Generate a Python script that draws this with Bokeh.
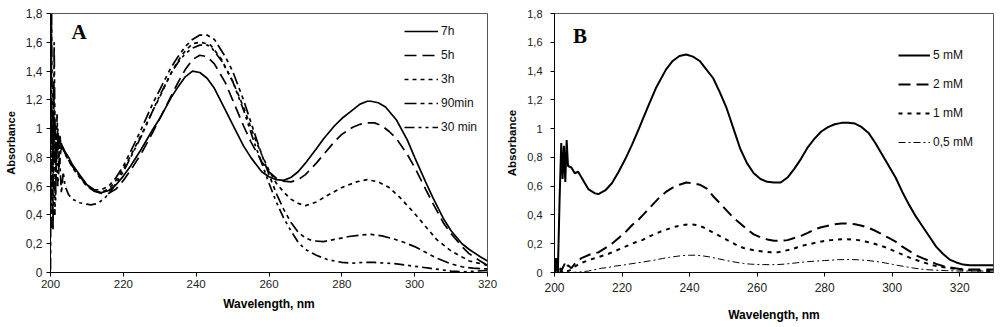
from bokeh.plotting import figure
from bokeh.layouts import row
from bokeh.models import FixedTicker, Label, Legend, LegendItem, Range1d
from bokeh.embed import file_html
from bokeh.resources import INLINE

# ---------------- Panel A data ----------------
wl_7h = [200, 200.5, 201, 201.5, 202, 202.5, 203, 204, 205, 206, 208, 210, 212, 213, 214, 216, 218, 220, 222, 225,
         228, 230, 233, 235, 237, 239, 241, 243, 245, 248, 250, 253, 255, 258, 260, 262, 264, 266, 268, 270, 273,
         275, 278, 280, 283, 285, 287, 288, 290, 292, 295, 298, 300, 303, 305, 308, 310, 313, 315, 318, 320]
abs_7h = [1.05, 0.95, 1.08, 0.92, 0.97, 0.9, 0.89, 0.84, 0.8, 0.75, 0.68, 0.61, 0.57, 0.56, 0.555, 0.57, 0.61, 0.67,
          0.74, 0.86, 0.99, 1.07, 1.21, 1.29, 1.36, 1.40, 1.39, 1.35, 1.28, 1.13, 1.03, 0.88, 0.80, 0.70, 0.665,
          0.645, 0.64, 0.66, 0.70, 0.76, 0.86, 0.93, 1.02, 1.07, 1.13, 1.17, 1.19, 1.19, 1.18, 1.15, 1.06, 0.92,
          0.80, 0.63, 0.52, 0.37, 0.29, 0.2, 0.16, 0.11, 0.08]

wl_5h = [200, 200.5, 201, 201.5, 202, 202.5, 203, 204, 205, 206, 208, 210, 212, 214, 216, 218, 220, 222, 225, 228,
         230, 233, 235, 237, 239, 241, 243, 245, 248, 250, 253, 255, 258, 260, 262, 264, 266, 268, 270, 273, 275,
         278, 280, 283, 285, 287, 289, 291, 293, 295, 298, 300, 303, 305, 308, 310, 313, 315, 318, 320]
abs_5h = [1.1, 0.85, 1.0, 0.8, 0.95, 0.85, 0.88, 0.83, 0.79, 0.74, 0.67, 0.6, 0.565, 0.55, 0.55, 0.58, 0.64, 0.71,
          0.83, 0.97, 1.07, 1.22, 1.32, 1.41, 1.48, 1.51, 1.50, 1.45, 1.32, 1.20, 1.02, 0.91, 0.77, 0.70, 0.655,
          0.635, 0.63, 0.645, 0.68, 0.76, 0.82, 0.91, 0.96, 1.01, 1.03, 1.04, 1.04, 1.02, 0.98, 0.93, 0.82, 0.73,
          0.58, 0.48, 0.34, 0.27, 0.18, 0.13, 0.08, 0.05]

wl_3h = [200, 200.5, 201, 201.5, 202, 202.5, 203, 204, 205, 206, 208, 210, 212, 214, 216, 218, 220, 222, 225, 228,
         230, 233, 235, 237, 239, 241, 243, 244, 247, 250, 253, 256, 258, 260, 262, 264, 266, 268, 270, 273, 276,
         280, 284, 287, 290, 293, 296, 300, 303, 306, 310, 315, 320]
abs_3h = [0.9, 0.5, 1.2, 0.7, 1.0, 0.75, 0.9, 0.82, 0.78, 0.73, 0.66, 0.6, 0.565, 0.56, 0.58, 0.64, 0.72, 0.81, 0.96,
          1.12, 1.22, 1.38, 1.47, 1.54, 1.59, 1.60, 1.59, 1.58, 1.48, 1.33, 1.15, 0.94, 0.82, 0.71, 0.62, 0.56,
          0.51, 0.48, 0.465, 0.49, 0.535, 0.59, 0.63, 0.645, 0.63, 0.59, 0.52, 0.41, 0.32, 0.23, 0.15, 0.08, 0.05]

wl_90 = [200, 200.3, 200.7, 201, 201.4, 201.8, 202.2, 202.6, 203, 204, 205, 206, 208, 210, 212, 214, 216, 218, 220,
         222, 225, 228, 230, 233, 235, 237, 239, 241, 243, 245, 248, 250, 253, 256, 258, 260, 262, 264, 266, 268,
         270, 272, 275, 278, 282, 285, 288, 291, 294, 297, 300, 303, 306, 310, 313, 316, 320]
abs_90 = [0.02, 1.8, 0.3, 1.6, 0.5, 1.1, 0.7, 0.95, 0.85, 0.83, 0.78, 0.74, 0.67, 0.61, 0.575, 0.575, 0.6, 0.66,
          0.74, 0.84, 1.0, 1.17, 1.27, 1.42, 1.5, 1.57, 1.62, 1.65, 1.65, 1.62, 1.50, 1.40, 1.20, 0.97, 0.82, 0.68,
          0.55, 0.44, 0.35, 0.28, 0.24, 0.22, 0.215, 0.23, 0.25, 0.26, 0.265, 0.255, 0.235, 0.21, 0.18, 0.14, 0.1,
          0.06, 0.04, 0.03, 0.025]

wl_30 = [200, 200.4, 200.8, 201.2, 201.6, 202, 202.5, 203, 203.5, 204, 205, 206, 208, 210, 211, 213, 215, 217, 220,
         222, 225, 228, 230, 233, 235, 237, 239, 241, 243, 244, 247, 250, 253, 256, 258, 260, 262, 264, 266, 268,
         270, 273, 276, 280, 283, 286, 289, 292, 295, 298, 301, 304, 307, 310, 314, 317, 320]
abs_30 = [1.75, 0.3, 1.3, 0.4, 0.9, 0.6, 0.8, 0.55, 0.7, 0.6, 0.54, 0.51, 0.485, 0.475, 0.47, 0.48, 0.52, 0.58, 0.70,
          0.8, 0.95, 1.12, 1.23, 1.38, 1.46, 1.52, 1.56, 1.58, 1.58, 1.57, 1.47, 1.33, 1.13, 0.9, 0.76, 0.62, 0.49,
          0.38, 0.29, 0.21, 0.16, 0.12, 0.09, 0.07, 0.065, 0.07, 0.07, 0.065, 0.06, 0.05, 0.04, 0.03, 0.02, 0.01,
          0.005, 0.01, 0.015]

names_a = ["7h", "5h", "3h", "90min", "30 min"]

# ---------------- Panel B data ----------------
wl_5mm = [200, 200.5, 201, 201.5, 202, 202.4, 202.8, 203.2, 203.6, 204, 205, 206, 207, 208, 209, 210, 212, 213, 215,
          217, 219, 221, 223, 225, 228, 230, 233, 235, 237, 239, 241, 243, 245, 247, 249, 251, 252, 253, 255, 257,
          259, 261, 263, 265, 267, 269, 271, 273, 275, 277, 279, 281, 283, 285, 287, 289, 291, 293, 295, 297, 299,
          301, 303, 305, 307, 309, 311, 313, 315, 317, 319, 321, 323, 326, 330]
abs_5mm = [0.0, 0.1, 0.01, 0.5, 0.9, 0.65, 0.88, 0.63, 0.92, 0.74, 0.73, 0.69, 0.7, 0.66, 0.62, 0.58, 0.55, 0.545,
           0.57, 0.62, 0.7, 0.79, 0.89, 1.0, 1.17, 1.28, 1.41, 1.47, 1.505, 1.515, 1.5, 1.47, 1.41, 1.35, 1.25,
           1.14, 1.07, 1.0, 0.86, 0.76, 0.69, 0.65, 0.63, 0.625, 0.625, 0.66, 0.72, 0.79, 0.87, 0.93, 0.98, 1.01,
           1.03, 1.04, 1.04, 1.035, 1.01, 0.97, 0.9, 0.82, 0.74, 0.66, 0.56, 0.47, 0.39, 0.32, 0.25, 0.18, 0.13,
           0.09, 0.07, 0.055, 0.05, 0.05, 0.05]

wl_2mm = [200, 200.5, 201, 201.5, 202, 203, 203.5, 204, 205, 206, 207, 208, 209, 211, 213, 215, 217, 219, 221, 223,
          225, 227, 229, 231, 233, 235, 237, 239, 241, 243, 245, 247, 249, 251, 253, 255, 257, 259, 261, 263, 265,
          267, 269, 271, 273, 275, 277, 279, 281, 283, 285, 287, 289, 291, 293, 295, 297, 299, 301, 303, 305, 307,
          309, 311, 313, 315, 317, 320, 323, 326, 330]
abs_2mm = [0.0, 0.09, 0.0, 0.05, 0.01, 0.06, 0.03, 0.05, 0.03, 0.06, 0.08, 0.1, 0.11, 0.13, 0.14, 0.17, 0.2, 0.24,
           0.28, 0.33, 0.37, 0.42, 0.47, 0.52, 0.56, 0.59, 0.61, 0.625, 0.62, 0.61, 0.585, 0.53, 0.48, 0.43, 0.38,
           0.34, 0.3, 0.265, 0.245, 0.23, 0.22, 0.22, 0.225, 0.24, 0.255, 0.275, 0.3, 0.315, 0.325, 0.335, 0.34,
           0.34, 0.335, 0.325, 0.31, 0.29, 0.265, 0.24, 0.215, 0.18, 0.15, 0.12, 0.1, 0.08, 0.06, 0.045, 0.035,
           0.025, 0.02, 0.02, 0.02]

wl_1mm = [200, 201, 202, 203, 204, 205, 206, 207, 208, 210, 212, 214, 216, 218, 220, 222, 224, 226, 228, 230, 232,
          234, 236, 238, 240, 242, 244, 246, 248, 250, 252, 254, 256, 258, 260, 262, 264, 266, 268, 270, 272, 274,
          276, 278, 280, 282, 284, 286, 288, 290, 292, 294, 296, 298, 300, 302, 304, 306, 308, 310, 312, 314, 317,
          320, 325, 330]
abs_1mm = [0.0, 0.03, 0.0, 0.02, 0.01, 0.02, 0.04, 0.055, 0.067, 0.085, 0.1, 0.115, 0.13, 0.15, 0.17, 0.19, 0.21,
           0.225, 0.25, 0.27, 0.29, 0.305, 0.32, 0.33, 0.335, 0.33, 0.315, 0.29, 0.265, 0.24, 0.215, 0.19, 0.17,
           0.16, 0.15, 0.145, 0.14, 0.14, 0.15, 0.16, 0.175, 0.19, 0.2, 0.21, 0.22, 0.225, 0.23, 0.232, 0.23, 0.225,
           0.215, 0.205, 0.19, 0.175, 0.155, 0.135, 0.115, 0.095, 0.08, 0.065, 0.05, 0.04, 0.03, 0.02, 0.012, 0.01]

wl_05mm = [200, 202, 205, 208, 210, 212, 214, 216, 218, 220, 222, 224, 226, 228, 230, 232, 234, 236, 238, 240, 242,
           244, 246, 248, 250, 252, 254, 256, 258, 260, 262, 264, 266, 268, 270, 272, 274, 276, 278, 280, 282, 284,
           286, 288, 290, 292, 294, 296, 298, 300, 302, 304, 306, 308, 310, 313, 316, 320, 325, 330]
abs_05mm = [0.0, 0.0, 0.0, 0.005, 0.01, 0.02, 0.03, 0.035, 0.045, 0.05, 0.058, 0.065, 0.072, 0.08, 0.088, 0.097,
            0.105, 0.112, 0.118, 0.12, 0.12, 0.115, 0.108, 0.098, 0.088, 0.078, 0.07, 0.063, 0.058, 0.056, 0.055,
            0.054, 0.055, 0.058, 0.063, 0.068, 0.073, 0.077, 0.08, 0.083, 0.086, 0.089, 0.09, 0.09, 0.088, 0.085,
            0.08, 0.074, 0.066, 0.057, 0.048, 0.04, 0.032, 0.025, 0.02, 0.016, 0.013, 0.01, 0.01, 0.01]

names_b = ["5 mM", "2 mM", "1 mM", "0,5 mM"]

# ---------------- Ticks ----------------
x_ticks_a = [200, 220, 240, 260, 280, 300, 320]
x_ticks_b = [200, 220, 240, 260, 280, 300, 320]
y_ticks = [0, 0.2, 0.4, 0.6, 0.8, 1.0, 1.2, 1.4, 1.6, 1.8]
y_tick_labels = ["0", "0,2", "0,4", "0,6", "0,8", "1", "1,2", "1,4", "1,6", "1,8"]

FONT = "Liberation Sans"


def make_fig(width, height, xr, mbl, mbr, mbt, mbb):
    p = figure(width=width, height=height, x_range=Range1d(*xr), y_range=Range1d(0, 1.8),
               output_backend="svg", toolbar_location=None,
               min_border_left=mbl, min_border_right=mbr, min_border_top=mbt, min_border_bottom=mbb)
    p.xgrid.visible = False
    p.ygrid.visible = False
    p.outline_line_color = "#555555"
    p.outline_line_width = 1
    p.background_fill_color = "white"
    p.border_fill_color = "white"
    return p


def style_axes(p, x_ticks, xlab_size, ylab_size, x_std, xlabel_std, y_std, ylabel_std, ylabel_font):
    p.xaxis.ticker = FixedTicker(ticks=x_ticks)
    p.yaxis.ticker = FixedTicker(ticks=y_ticks)
    p.yaxis.major_label_overrides = {t: s for t, s in zip(y_ticks, y_tick_labels)}
    for ax in (p.xaxis[0], p.yaxis[0]):
        ax.axis_line_color = "black"
        ax.major_tick_line_color = "black"
        ax.major_tick_out = 4
        ax.major_tick_in = 0
        ax.minor_tick_out = 0
        ax.minor_tick_in = 0
        ax.major_label_text_font = FONT
        ax.major_label_text_color = "#222222"
        ax.axis_label_text_font = FONT
        ax.axis_label_text_font_style = "bold"
        ax.axis_label_text_color = "black"
    p.xaxis.major_label_text_font_size = xlab_size
    p.yaxis.major_label_text_font_size = ylab_size
    p.xaxis.major_label_standoff = x_std
    p.xaxis.axis_label_standoff = xlabel_std
    p.yaxis.major_label_standoff = y_std
    p.yaxis.axis_label_standoff = ylabel_std
    p.xaxis.axis_label = "Wavelength, nm"
    p.yaxis.axis_label = "Absorbance"
    p.xaxis.axis_label_text_font_size = "12px"
    p.yaxis.axis_label_text_font_size = ylabel_font


def add_legend(p, items, loc, spacing, glyph_w):
    leg = Legend(items=items, location=loc, spacing=spacing, padding=0, margin=0,
                 glyph_width=glyph_w, glyph_height=20, label_height=20, label_standoff=3,
                 border_line_alpha=0, background_fill_alpha=0,
                 label_text_font=FONT, label_text_font_size="12px", label_text_color="#111111")
    p.add_layout(leg)


# ---------------- Panel A ----------------
pa = make_fig(500, 327, (200, 320), 50, 13, 11, 55)
style_axes(pa, x_ticks_a, "11.5px", "12px", 3, 6, 4, 6, "11px")
series_a = [(wl_7h, abs_7h, "solid"), (wl_5h, abs_5h, "12 6"), (wl_3h, abs_3h, "4 4"),
            (wl_90, abs_90, "12 4 4 4 4 4"), (wl_30, abs_30, "10 4 3 4 3 4")]
items_a = []
for (x, y, dash), name in zip(series_a, names_a):
    r = pa.line(x, y, line_color="black", line_width=1.7, line_dash=dash)
    items_a.append(LegendItem(label=name, renderers=[r]))
add_legend(pa, items_a, (354, 135), 4, 34)
pa.add_layout(Label(x=205.8, y=1.585, text="A", text_font="Liberation Serif", text_font_style="bold",
                    text_font_size="21px", text_color="black"))

# ---------------- Panel B ----------------
pb = make_fig(500, 327, (200, 330), 54, 7, 13, 54)
style_axes(pb, x_ticks_b, "12px", "11px", 6, 13, 8, 6, "11.5px")
series_b = [(wl_5mm, abs_5mm, "solid", 2.0), (wl_2mm, abs_2mm, "12 6", 2.0), (wl_1mm, abs_1mm, "4 5", 2.0),
            (wl_05mm, abs_05mm, "7 3 2 3", 1.0)]
items_b = []
for (x, y, dash, lw), name in zip(series_b, names_b):
    r = pb.line(x, y, line_color="black", line_width=lw, line_dash=dash)
    items_b.append(LegendItem(label=name, renderers=[r]))
add_legend(pb, items_b, (344, 120), 9, 32)
pb.add_layout(Label(x=205.5, y=1.56, text="B", text_font="Liberation Serif", text_font_style="bold",
                    text_font_size="21px", text_color="black"))

layout = row(pa, pb)
open("out.html", "w").write(file_html(layout, INLINE))
